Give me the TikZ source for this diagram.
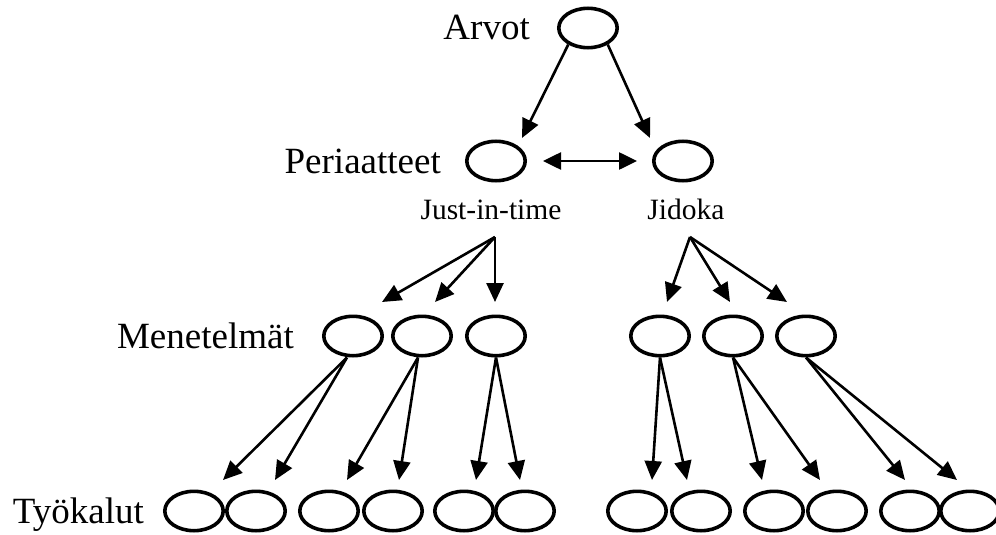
\documentclass[tikz,border=0pt]{standalone}
\usepackage{fontspec}
\setmainfont{Liberation Serif}
\usetikzlibrary{arrows.meta,shapes.geometric}
\begin{document}
\begin{tikzpicture}[x=1pt,y=-1pt,
  item/.style={ellipse, draw, line width=3.6pt, minimum width=58.4pt,
    minimum height=39.4pt, inner sep=0pt},
  arr/.style={line width=2.6pt, -{Triangle[length=19pt,width=17pt]}},
  dbl/.style={line width=2.6pt,
    {Triangle[length=18pt,width=17pt]}-{Triangle[length=18pt,width=17pt]}},
  lvl/.style={font=\fontsize{37}{40}\selectfont, anchor=base east, inner sep=0pt},
  sub/.style={font=\fontsize{29.5}{32}\selectfont, anchor=base, inner sep=0pt}]
\useasboundingbox (0,0) rectangle (996,535);
\clip (0,0) rectangle (996,535);

% level labels
\node[lvl] (arvotlabel) at (530,40) {Arvot};
\node[lvl] (perlabel) at (441,173) {Periaatteet};
\node[lvl] (menlabel) at (294,348) {Menetelmät};
\node[lvl] (tyolabel) at (144,523) {Työkalut};

% values and principles
\node[item] (arvot) at (588,28) {};
\node[item] (p1) at (496,161) {};
\node[item] (p2) at (683,161) {};
\node[sub] (jit) at (491,219) {Just-in-time};
\node[sub] (jid) at (686,219) {Jidoka};
\coordinate (jitfork) at (495,237);
\coordinate (jidfork) at (690,237);

% methods
\node[item] (m1) at (353,336) {};
\node[item] (m2) at (422,336) {};
\node[item] (m3) at (496,336) {};
\node[item] (j1) at (660,336) {};
\node[item] (j2) at (733,336) {};
\node[item] (j3) at (806,336) {};

% tools
\node[item] (t1) at (194,511) {};
\node[item] (t2) at (256,511) {};
\node[item] (t3) at (329,511) {};
\node[item] (t4) at (393,511) {};
\node[item] (t5) at (464,511) {};
\node[item] (t6) at (525,511) {};
\node[item] (t7) at (637,511) {};
\node[item] (t8) at (701,511) {};
\node[item] (t9) at (774,511) {};
\node[item] (t10) at (837,511) {};
\node[item] (t11) at (910,511) {};
\node[item] (t12) at (970,511) {};

% values -> principles
\draw[arr] (arvot.220) -- ([xshift=26pt,yshift=1.5pt]p1.north);
\draw[arr] (arvot.320) -- ([xshift=-33pt,yshift=1.5pt]p2.north);
\draw[dbl] ([xshift=16pt]p1.east) -- ([xshift=-15pt]p2.west);

% principles -> methods
\draw[arr] (jitfork) -- ([xshift=29pt,yshift=12.5pt]m1.north);
\draw[arr] (jitfork) -- ([xshift=13pt,yshift=12.5pt]m2.north);
\draw[arr] (jitfork) -- ([xshift=-1pt,yshift=12.5pt]m3.north);
\draw[arr] (jidfork) -- ([xshift=7pt,yshift=12.5pt]j1.north);
\draw[arr] (jidfork) -- ([xshift=-3pt,yshift=12.5pt]j2.north);
\draw[arr] (jidfork) -- ([xshift=-19pt,yshift=12.5pt]j3.north);

% methods -> tools
\draw[arr] ([xshift=-6pt]m1.south) -- ([xshift=29pt,yshift=9.5pt]t1.north);
\draw[arr] ([xshift=-6pt]m1.south) -- ([xshift=19pt,yshift=9.5pt]t2.north);
\draw[arr] ([xshift=-4pt]m2.south) -- ([xshift=18pt,yshift=9.5pt]t3.north);
\draw[arr] ([xshift=-4pt]m2.south) -- ([xshift=6pt,yshift=9.5pt]t4.north);
\draw[arr] (m3.south) -- ([xshift=12pt,yshift=9.5pt]t5.north);
\draw[arr] (m3.south) -- ([xshift=-5pt,yshift=9.5pt]t6.north);
\draw[arr] (j1.south) -- ([xshift=15pt,yshift=9.5pt]t7.north);
\draw[arr] (j1.south) -- ([xshift=-14pt,yshift=9.5pt]t8.north);
\draw[arr] (j2.south) -- ([xshift=-12pt,yshift=9.5pt]t9.north);
\draw[arr] (j2.south) -- ([xshift=-17pt,yshift=9.5pt]t10.north);
\draw[arr] (j3.south) -- ([xshift=-5pt,yshift=9.5pt]t11.north);
\draw[arr] (j3.south) -- ([xshift=-13pt,yshift=9.5pt]t12.north);
\end{tikzpicture}
\end{document}
